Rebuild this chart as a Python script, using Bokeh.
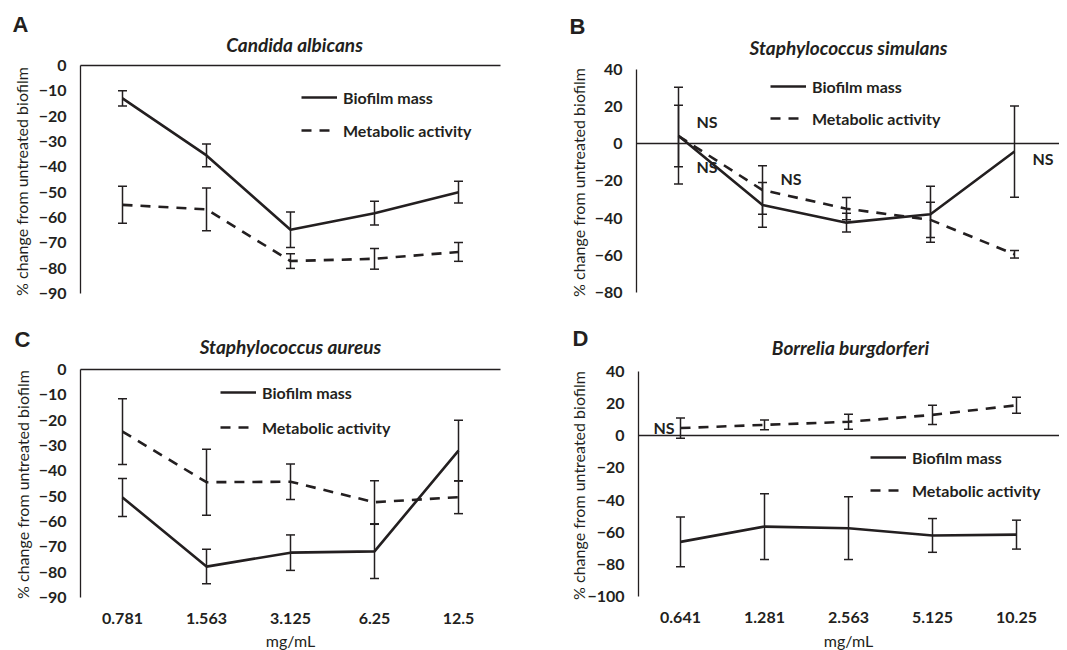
import math
from bokeh.plotting import figure
from bokeh.models import (ColumnDataSource, Whisker, TeeHead, Legend, LegendItem,
                          Label, Range1d, FixedTicker, LinearAxis)
from bokeh.layouts import gridplot
from bokeh.embed import file_html
from bokeh.resources import INLINE

# ---------------- data ----------------
conc_ac = ["0.781", "1.563", "3.125", "6.25", "12.5"]
conc_bd = ["0.641", "1.281", "2.563", "5.125", "10.25"]

a_mass = [-13, -35.5, -64.8, -58.3, -50]
a_mass_err = [3, 4.5, 7, 4.7, 4.3]
a_met = [-55, -56.8, -77.2, -76.3, -73.6]
a_met_err = [7.3, 8.4, 2.9, 4.1, 3.7]

b_mass = [4.2, -33, -42.5, -38, -4.3]
b_mass_err = [26, 12, 5, 15, 24.5]
b_met = [4, -25, -35, -41, -59.5]
b_met_err = [16.5, 13, 6, 9.5, 2]

c_mass = [-50.5, -77.8, -72.3, -71.8, -32]
c_mass_err = [7.5, 6.8, 7, 10.7, 12]
c_met = [-24.5, -44.5, -44.3, -52.4, -50.4]
c_met_err = [13, 13, 7, 8.5, 6.5]

d_mass = [-66, -56.5, -57.5, -62, -61.5]
d_mass_err = [15.5, 20.5, 19.5, 10.5, 9]
d_met = [4.8, 6.8, 8.7, 13, 19]
d_met_err = [6.3, 3, 4.7, 6, 5]

ticks_ac = [0, -10, -20, -30, -40, -50, -60, -70, -80, -90]
ticks_b = [40, 20, 0, -20, -40, -60, -80]
ticks_d = [40, 20, 0, -20, -40, -60, -80, -100]

series_labels = ["Biofilm mass", "Metabolic activity"]
y_label = "% change from untreated biofilm"
x_label = "mg/mL"

# NS annotations: (category index, y value, side)
b_ns = [(0, 11.8, "r"), (0, -12.3, "r"), (1, -18.7, "r"), (4, -8, "r")]
d_ns = [(0, 5, "l")]

# ---------------- styling / layout ----------------
INK = "#231f20"
FONT = "Lato"
CAT_PX = 84      # pixels per category


def panel(cats, lo, hi, ticks, mass, mass_err, met, met_err, letter, title, ns,
          box, axis_px, hi_px, lo_px, zero_to_edge, show_x,
          ylab_pos, letter_pos, title_pos, leg_left, leg_rows):
    fx0, fy0, fx1, fy1 = box
    W, H = fx1 - fx0, fy1 - fy0
    n = len(cats)
    x_start = -(axis_px - fx0) / CAT_PX
    x_end = x_start + W / CAT_PX
    s = (lo_px - hi_px) / (hi - lo)
    y_end = hi + (hi_px - fy0) / s
    y_start = y_end - H / s

    def X(px):
        return x_start + (px - fx0) / CAT_PX

    def Y(py):
        return y_end - (py - fy0) / s

    p = figure(width=W, height=H, x_range=Range1d(x_start, x_end),
               y_range=Range1d(y_start, y_end), min_border=0,
               output_backend="svg", toolbar_location=None, tools="")
    p.xgrid.visible = False
    p.ygrid.visible = False
    p.outline_line_color = None

    # y axis drawn at the left edge of the category area
    ya = p.yaxis[0]
    ya.fixed_location = 0
    ya.bounds = (lo, hi)
    ya.ticker = FixedTicker(ticks=ticks)
    ya.major_tick_out = 0
    ya.major_tick_in = 0
    ya.minor_tick_line_color = None
    ya.major_tick_line_color = None
    ya.axis_line_color = INK
    ya.axis_line_width = 1.3
    ya.major_label_standoff = 14
    ya.major_label_text_font = FONT
    ya.major_label_text_font_style = "bold"
    ya.major_label_text_font_size = "16px"
    ya.major_label_text_color = INK

    # category axis line at y = 0
    xa = p.xaxis[0]
    xa.fixed_location = 0
    xa.bounds = (0, x_end if zero_to_edge else n)
    xa.ticker = FixedTicker(ticks=[])
    xa.major_tick_out = 0
    xa.major_tick_in = 0
    xa.minor_tick_line_color = None
    xa.axis_line_color = INK
    xa.axis_line_width = 1.3

    xpos = [i + 0.5 for i in range(n)]
    if show_x:
        la = LinearAxis(fixed_location=lo, ticker=FixedTicker(ticks=xpos),
                        major_label_overrides={x: c for x, c in zip(xpos, cats)},
                        axis_line_color=None, major_tick_line_color=None,
                        minor_tick_line_color=None, major_tick_out=0, major_tick_in=0,
                        major_label_standoff=15, major_label_text_font=FONT,
                        major_label_text_font_style="bold",
                        major_label_text_font_size="16px", major_label_text_color=INK)
        p.add_layout(la, "below")
        p.add_layout(Label(x=n / 2, y=Y(640), text=x_label, text_font=FONT,
                           text_font_size="16px", text_align="center",
                           text_baseline="alphabetic", text_color=INK))

    r1 = p.line(x=xpos, y=mass, line_color=INK, line_width=2.6)
    r2 = p.line(x=xpos, y=met, line_color=INK, line_width=2.6, line_dash="10 8")

    for vals, errs in ((mass, mass_err), (met, met_err)):
        src = ColumnDataSource(dict(x=xpos,
                                    upper=[v + e for v, e in zip(vals, errs)],
                                    lower=[v - e for v, e in zip(vals, errs)]))
        w = Whisker(source=src, base="x", upper="upper", lower="lower",
                    line_color=INK, line_width=1.5,
                    upper_head=TeeHead(size=9, line_color=INK, line_width=1.5),
                    lower_head=TeeHead(size=9, line_color=INK, line_width=1.5))
        p.add_layout(w)

    r_top, r_bot = leg_rows
    leg = Legend(items=[LegendItem(label=series_labels[0], renderers=[r1]),
                        LegendItem(label=series_labels[1], renderers=[r2])],
                 location=(leg_left - fx0, fy1 - (r_bot + 10)),
                 glyph_width=36, glyph_height=20, label_height=20,
                 spacing=(r_bot - r_top) - 20, padding=0, margin=0, label_standoff=6,
                 border_line_color=None, background_fill_alpha=0,
                 label_text_font=FONT, label_text_font_style="bold",
                 label_text_font_size="16px", label_text_color=INK)
    p.add_layout(leg)

    p.add_layout(Label(x=X(ylab_pos[0]), y=Y(ylab_pos[1]), text=y_label, angle=math.pi / 2,
                       text_font=FONT, text_font_size="16px", text_align="center",
                       text_baseline="middle", text_color=INK))
    p.add_layout(Label(x=X(title_pos[0]), y=Y(title_pos[1]), text=title, text_font=FONT,
                       text_font_style="bold italic", text_font_size="19px",
                       text_align="center", text_baseline="middle", text_color=INK))
    p.add_layout(Label(x=X(letter_pos[0]), y=Y(letter_pos[1]), text=letter,
                       text_font="Liberation Sans", text_font_style="bold",
                       text_font_size="22px", text_align="left", text_baseline="middle",
                       text_color=INK))
    for idx, yv, side in ns:
        right = side == "r"
        p.add_layout(Label(x=idx + 0.5, y=yv, text="NS", x_offset=18 if right else -6,
                           text_font=FONT, text_font_style="bold", text_font_size="16px",
                           text_align="left" if right else "right",
                           text_baseline="middle", text_color=INK))
    return p


# boxes and positions in screenshot pixels
pA = panel(conc_ac, -90, 0, ticks_ac, a_mass, a_mass_err, a_met, a_met_err,
           "A", "Candida albicans", [],
           box=(0, 0, 540, 320), axis_px=80, hi_px=65, lo_px=293, zero_to_edge=False,
           show_x=False, ylab_pos=(21, 181), letter_pos=(12, 24), title_pos=(294, 44),
           leg_left=301, leg_rows=(97, 130))
pB = panel(conc_bd, -80, 40, ticks_b, b_mass, b_mass_err, b_met, b_met_err,
           "B", "Staphylococcus simulans", b_ns,
           box=(540, 0, 1059, 320), axis_px=636, hi_px=68.5, lo_px=292, zero_to_edge=True,
           show_x=False, ylab_pos=(578, 182), letter_pos=(569, 26), title_pos=(848, 47),
           leg_left=770, leg_rows=(86, 118))
pC = panel(conc_ac, -90, 0, ticks_ac, c_mass, c_mass_err, c_met, c_met_err,
           "C", "Staphylococcus aureus", [],
           box=(0, 320, 540, 650), axis_px=80, hi_px=369, lo_px=597, zero_to_edge=False,
           show_x=True, ylab_pos=(21.5, 484), letter_pos=(14, 339), title_pos=(290, 346),
           leg_left=220, leg_rows=(392, 427))
pD = panel(conc_bd, -100, 40, ticks_d, d_mass, d_mass_err, d_met, d_met_err,
           "D", "Borrelia burgdorferi", d_ns,
           box=(540, 320, 1059, 650), axis_px=638, hi_px=371, lo_px=596, zero_to_edge=True,
           show_x=True, ylab_pos=(578, 485), letter_pos=(572, 338), title_pos=(850, 347),
           leg_left=870, leg_rows=(457, 490))

grid = gridplot([[pA, pB], [pC, pD]], toolbar_location=None)
open("out.html", "w").write(file_html(grid, INLINE))
